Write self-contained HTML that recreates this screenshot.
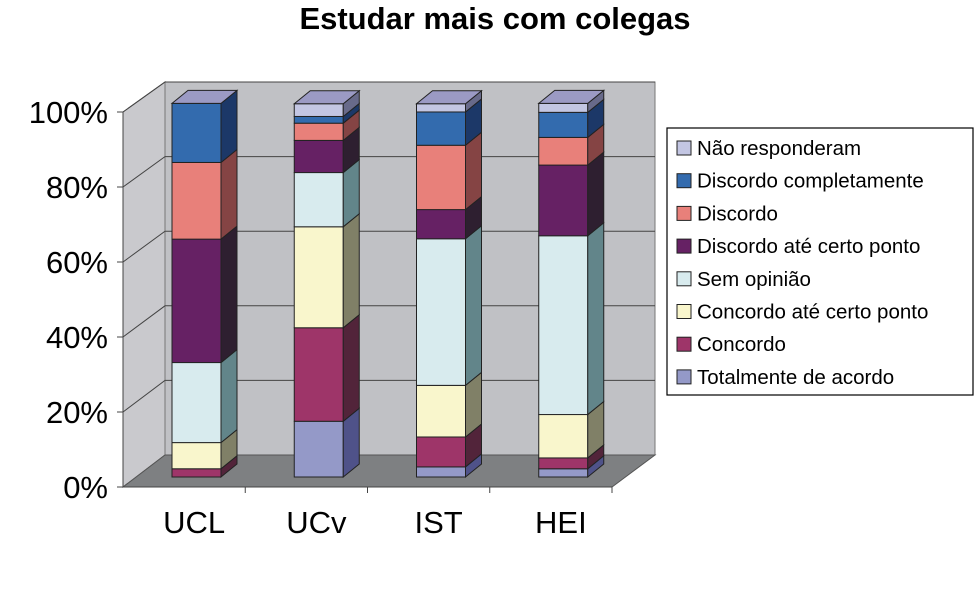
<!DOCTYPE html>
<html><head><meta charset="utf-8"><style>
body{margin:0;background:#fff;width:975px;height:598px;overflow:hidden;font-family:"Liberation Sans",Arial,sans-serif}
</style></head><body>
<svg id="chart" width="975" height="598" xmlns="http://www.w3.org/2000/svg" font-family="Liberation Sans, Arial, sans-serif">
<text x="495" y="29" text-anchor="middle" font-size="31" font-weight="bold">Estudar mais com colegas</text>
<g id="walls">
<polygon points="123,112 165,82 165,455 123,487" fill="#C9C9CD" stroke="#555" stroke-width="1"/>
<polygon points="165,82 655,82 655,455 165,455" fill="#C0C1C5" stroke="#777" stroke-width="1"/>
<polygon points="123,487 165,455 655,455 612,487" fill="#7E8082" stroke="#555" stroke-width="1"/>
</g>
<g id="grid"></g><g id="bars"></g><g id="axes"></g>
<g id="legend">
<rect x="667" y="128" width="306" height="267" fill="#fff" stroke="#000" stroke-width="1.2"/>
</g>
</svg>
<script>
const categories=["UCL","UCv","IST","HEI"];
const seriesNames=["Totalmente de acordo","Concordo","Concordo até certo ponto","Sem opinião","Discordo até certo ponto","Discordo","Discordo completamente","Não responderam"];
const totalmente=[0,14.9,2.7,2.2];
const concordo=[2.2,25,8,2.9];
const concordoAte=[7,27,13.8,11.6];
const semOpiniao=[21.4,14.5,39.2,47.8];
const discordoAte=[33,8.6,7.8,18.9];
const discordo=[20.5,4.6,17.2,7.4];
const discordoComp=[15.8,1.8,8.9,6.7];
const naoResp=[0,3.4,2.2,2.4];
const tickLabels=["0%","20%","40%","60%","80%","100%"];
const series=[totalmente,concordo,concordoAte,semOpiniao,discordoAte,discordo,discordoComp,naoResp];
const front=["#9499C8","#9E3569","#F9F6CC","#D8EBEE","#662164","#E8807A","#336BAE","#C3C6E3"];
const side=["#4F5289","#52243A","#808067","#62858A","#2E1F30","#854444","#1C3868","#686A8A"];
const NS="http://www.w3.org/2000/svg";
function el(t,a,p){const e=document.createElementNS(NS,t);for(const k in a)e.setAttribute(k,a[k]);p.appendChild(e);return e;}
// axis functions
const yBar=v=>477-v*3.74;           // bar front-face scale
const yBack=v=>455-v*3.73;          // back-wall scale
const yFront=v=>487-v*3.75;         // front axis scale
const xCat=i=>123+122.25*i+49;      // bar front left edge
const BW=49,DX=16,DY=13;
const grid=document.getElementById('grid'),bars=document.getElementById('bars'),axes=document.getElementById('axes'),leg=document.getElementById('legend');
tickLabels.forEach((t,i)=>{
  const v=i*20;
  if(i>0){
    const g=el('polyline',{points:`123,${yFront(v)} 165,${yBack(v)} 655,${yBack(v)}`,fill:'none',stroke:'#444','stroke-width':1},grid);
    
    
  }
  const tk=el('line',{x1:117,x2:123,y1:yFront(v),y2:yFront(v),stroke:'#444'},axes);
  
  
  const tx=el('text',{x:108,y:yFront(v)+11,'text-anchor':'end','font-size':31},axes);
  tx.textContent=t;
  
  
});
el('line',{x1:123,x2:123,y1:yFront(0),y2:yFront(100),stroke:'#444'},axes);
el('line',{x1:123,x2:612,y1:487,y2:487,stroke:'#444'},axes);
categories.forEach((c,i)=>{
  const tk=el('line',{x1:123+122.25*(i+1),x2:123+122.25*(i+1),y1:487,y2:493,stroke:'#444'},axes);
  
  
  const tx=el('text',{x:123+122.25*(i+0.5)+10,y:533,'text-anchor':'middle','font-size':31},axes);
  tx.textContent=c;
  
  
  const x=xCat(i);let cum=0;
  series.forEach((s,k)=>{
    const v=s[i];const y0=yBar(cum),y1=yBar(cum+v);cum+=v;
    if(v<=0)return;
    const g=el('g',{},bars);
    
    
    el('rect',{x:x,y:y1,width:BW,height:y0-y1,fill:front[k],stroke:'#222','stroke-width':1},g);
    el('polygon',{points:`${x+BW},${y1} ${x+BW+DX},${y1-DY} ${x+BW+DX},${y0-DY} ${x+BW},${y0}`,fill:side[k],stroke:'#222','stroke-width':1},g);
  });
  const yt=yBar(cum);
  const top=el('polygon',{points:`${x},${yt} ${x+DX},${yt-DY} ${x+BW+DX},${yt-DY} ${x+BW},${yt}`,fill:'#9B9AC4',stroke:'#222','stroke-width':1},bars);
  
  
});
for(let r=0;r<8;r++){
  const k=7-r,cy=148+r*32.7;
  const g=el('g',{},leg);
  
  
  el('rect',{x:677,y:cy-7,width:14,height:14,fill:front[k],stroke:'#222','stroke-width':1},g);
  const t=el('text',{x:697,y:cy+7,'font-size':20.5},g);
  t.textContent=seriesNames[k];
}
</script>
</body></html>
